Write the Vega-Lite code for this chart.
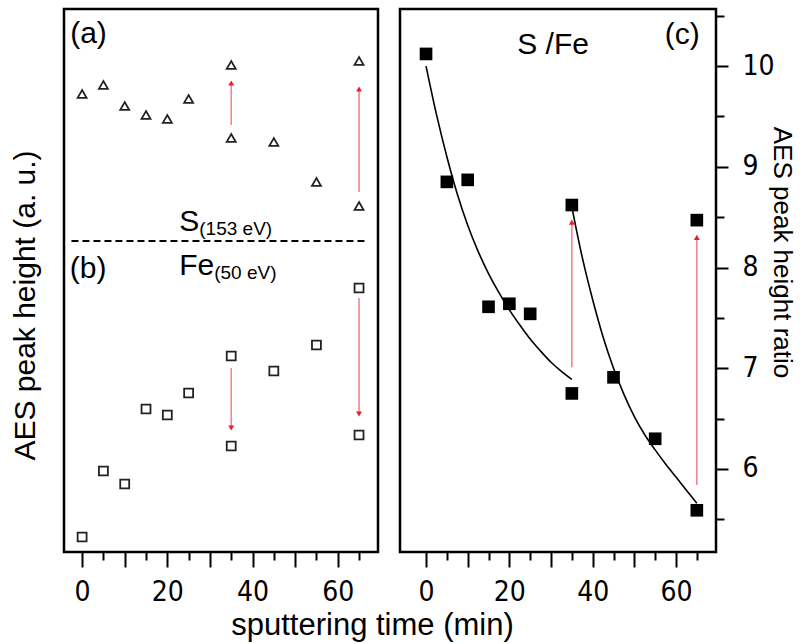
{
  "$schema": "https://vega.github.io/schema/vega-lite/v6.json",
  "padding": {"left": 8, "top": 0, "right": 2, "bottom": 0},
  "bounds": "flush",
  "spacing": 22,
  "config": {
    "view": {"stroke": "black", "strokeWidth": 2.5},
    "font": "Liberation Sans",
    "axis": {
      "labelFont": "Liberation Sans Narrow, DejaVu Sans Condensed, Liberation Sans",
      "titleFont": "Liberation Sans",
      "titleFontWeight": "normal",
      "labelColor": "black",
      "titleColor": "black",
      "tickColor": "black",
      "grid": false,
      "domain": false
    }
  },
  "datasets": {
    "S": [
      {"t": 0, "v": 458}, {"t": 5, "v": 467}, {"t": 10, "v": 446}, {"t": 15, "v": 437},
      {"t": 20, "v": 433}, {"t": 25, "v": 453}, {"t": 35, "v": 487}, {"t": 35, "v": 414},
      {"t": 45, "v": 410}, {"t": 55, "v": 370}, {"t": 65, "v": 491}, {"t": 65, "v": 346}
    ],
    "Fe": [
      {"t": 0, "v": 15}, {"t": 5, "v": 81}, {"t": 10, "v": 68}, {"t": 15, "v": 143},
      {"t": 20, "v": 137}, {"t": 25, "v": 159}, {"t": 35, "v": 196}, {"t": 35, "v": 106},
      {"t": 45, "v": 181}, {"t": 55, "v": 207}, {"t": 65, "v": 264}, {"t": 65, "v": 117}
    ],
    "ratio": [
      {"t": 0, "v": 10.12}, {"t": 5, "v": 8.85}, {"t": 10, "v": 8.87}, {"t": 15, "v": 7.61},
      {"t": 20, "v": 7.64}, {"t": 25, "v": 7.54}, {"t": 35, "v": 8.62}, {"t": 35, "v": 6.75},
      {"t": 45, "v": 6.91}, {"t": 55, "v": 6.30}, {"t": 65, "v": 8.47}, {"t": 65, "v": 5.59}
    ],
    "fit": [
      {"seg": 1, "t": 0, "v": 10.0}, {"seg": 1, "t": 2.5, "v": 9.52}, {"seg": 1, "t": 5, "v": 9.10},
      {"seg": 1, "t": 7.5, "v": 8.73}, {"seg": 1, "t": 10, "v": 8.42}, {"seg": 1, "t": 12.5, "v": 8.16},
      {"seg": 1, "t": 15, "v": 7.94}, {"seg": 1, "t": 17.5, "v": 7.75}, {"seg": 1, "t": 20, "v": 7.58},
      {"seg": 1, "t": 22.5, "v": 7.43}, {"seg": 1, "t": 25, "v": 7.29}, {"seg": 1, "t": 27.5, "v": 7.17},
      {"seg": 1, "t": 30, "v": 7.06}, {"seg": 1, "t": 32.5, "v": 6.97}, {"seg": 1, "t": 35, "v": 6.89},
      {"seg": 2, "t": 35, "v": 8.60}, {"seg": 2, "t": 37.5, "v": 8.10}, {"seg": 2, "t": 40, "v": 7.68},
      {"seg": 2, "t": 42.5, "v": 7.31}, {"seg": 2, "t": 45, "v": 7.00}, {"seg": 2, "t": 47.5, "v": 6.74},
      {"seg": 2, "t": 50, "v": 6.52}, {"seg": 2, "t": 52.5, "v": 6.34}, {"seg": 2, "t": 55, "v": 6.19},
      {"seg": 2, "t": 57.5, "v": 6.05}, {"seg": 2, "t": 60, "v": 5.92}, {"seg": 2, "t": 62.5, "v": 5.79},
      {"seg": 2, "t": 65, "v": 5.66}
    ],
    "armsL": [
      {"t": 35, "v1": 427, "v2": 468}, {"t": 65, "v1": 360, "v2": 462},
      {"t": 35, "v1": 184, "v2": 125}, {"t": 65, "v1": 254, "v2": 139}
    ],
    "headsL": [
      {"t": 35, "v": 469, "dir": "up"}, {"t": 65, "v": 463, "dir": "up"},
      {"t": 35, "v": 124, "dir": "down"}, {"t": 65, "v": 138, "dir": "down"}
    ],
    "armsR": [
      {"t": 35, "v1": 7.01, "v2": 8.44}, {"t": 65, "v1": 5.84, "v2": 8.29}
    ],
    "headsR": [
      {"t": 35, "v": 8.45, "dir": "up"}, {"t": 65, "v": 8.30, "dir": "up"}
    ],
    "divider": [{"t1": -2.5, "t2": 67.1, "v": 311}],
    "panelL": [{"t": 1.5, "v": 518, "txt": "(a)"}, {"t": 1.4, "v": 283, "txt": "(b)"}],
    "elem": [{"t": 22.8, "v": 321, "txt": "S"}, {"t": 22.8, "v": 277, "txt": "Fe"}],
    "sub": [{"t": 27.5, "v": 317, "txt": "(153 eV)"}, {"t": 31.0, "v": 273, "txt": "(50 eV)"}],
    "panelR": [{"t": 61.5, "v": 10.31, "txt": "(c)"}, {"t": 30.5, "v": 10.21, "txt": "S /Fe"}]
  },
  "hconcat": [
    {
      "width": 314,
      "height": 543,
      "encoding": {
        "x": {
          "field": "t", "type": "quantitative",
          "scale": {"domain": [-4.25, 69.45], "nice": false, "zero": false},
          "axis": {
            "values": [0, 5, 10, 15, 20, 25, 30, 35, 40, 45, 50, 55, 60, 65],
            "labelExpr": "datum.value % 20 === 0 ? datum.label : ''",
            "tickSize": {"condition": {"test": "datum.value % 10 === 0", "value": 15}, "value": 8},
            "tickWidth": 2,
            "labelFontSize": 28,
            "labelPadding": 11,
            "labelFlush": false,
            "labelOverlap": false,
            "title": "sputtering time (min)",
            "titleFontSize": 31,
            "titleX": 308,
            "titlePadding": 4
          }
        },
        "y": {
          "field": "v", "type": "quantitative",
          "scale": {"domain": [0, 543], "nice": false, "zero": false},
          "axis": {
            "labels": false, "ticks": false,
            "title": "AES peak height (a. u.)",
            "titleFontSize": 30,
            "titlePadding": 24,
            "titleY": 296
          }
        }
      },
      "layer": [
        {
          "data": {"name": "divider"},
          "mark": {"type": "rule", "color": "black", "strokeWidth": 2, "strokeDash": [7, 4]},
          "encoding": {"x": {"field": "t1", "type": "quantitative"}, "x2": {"field": "t2"}, "y": {"field": "v", "type": "quantitative"}}
        },
        {
          "data": {"name": "armsL"},
          "mark": {"type": "rule", "color": "#f3868f", "strokeWidth": 1.6},
          "encoding": {"y": {"field": "v1", "type": "quantitative"}, "y2": {"field": "v2"}}
        },
        {
          "data": {"name": "headsL"},
          "mark": {"type": "point", "filled": true, "color": "#e8202e", "size": 36, "opacity": 1},
          "encoding": {"shape": {"field": "dir", "type": "nominal", "scale": {"domain": ["up", "down"], "range": ["triangle-up", "triangle-down"]}, "legend": null}}
        },
        {
          "data": {"name": "S"},
          "mark": {"type": "point", "shape": "triangle-up", "filled": false, "stroke": "#222222", "strokeWidth": 1.8, "size": 80, "opacity": 1}
        },
        {
          "data": {"name": "Fe"},
          "mark": {"type": "point", "shape": "square", "filled": false, "stroke": "#222222", "strokeWidth": 1.8, "size": 80, "opacity": 1}
        },
        {
          "data": {"name": "panelL"},
          "mark": {"type": "text", "fontSize": 30, "align": "center", "baseline": "middle", "color": "black"},
          "encoding": {"text": {"field": "txt"}}
        },
        {
          "data": {"name": "elem"},
          "mark": {"type": "text", "fontSize": 30, "align": "left", "baseline": "alphabetic", "color": "black"},
          "encoding": {"text": {"field": "txt"}}
        },
        {
          "data": {"name": "sub"},
          "mark": {"type": "text", "fontSize": 19, "align": "left", "baseline": "alphabetic", "color": "black"},
          "encoding": {"text": {"field": "txt"}}
        }
      ]
    },
    {
      "width": 316,
      "height": 543,
      "encoding": {
        "x": {
          "field": "t", "type": "quantitative",
          "scale": {"domain": [-6.25, 69.6], "nice": false, "zero": false},
          "axis": {
            "values": [0, 5, 10, 15, 20, 25, 30, 35, 40, 45, 50, 55, 60, 65],
            "labelExpr": "datum.value % 20 === 0 ? datum.label : ''",
            "tickSize": {"condition": {"test": "datum.value % 10 === 0", "value": 15}, "value": 8},
            "tickWidth": 2,
            "labelFontSize": 28,
            "labelPadding": 11,
            "labelFlush": false,
            "labelOverlap": false,
            "title": null
          }
        },
        "y": {
          "field": "v", "type": "quantitative",
          "scale": {"domain": [5.176, 10.566], "nice": false, "zero": false},
          "axis": {
            "orient": "right",
            "values": [5.5, 6, 6.5, 7, 7.5, 8, 8.5, 9, 9.5, 10, 10.5],
            "labelExpr": "datum.value % 1 === 0 ? format(datum.value, 'd') : ''",
            "tickSize": {"condition": {"test": "datum.value % 1 === 0", "value": 12}, "value": 8},
            "tickWidth": 2,
            "labelFontSize": 28,
            "labelPadding": 14,
            "labelFlush": false,
            "labelOverlap": false,
            "labelBaseline": "middle",
            "title": "AES peak height ratio",
            "titleFontSize": 26,
            "titlePadding": -6,
            "titleY": 243
          }
        }
      },
      "layer": [
        {
          "data": {"name": "fit"},
          "mark": {"type": "line", "color": "black", "strokeWidth": 1.6, "interpolate": "monotone"},
          "encoding": {"detail": {"field": "seg", "type": "nominal"}}
        },
        {
          "data": {"name": "armsR"},
          "mark": {"type": "rule", "color": "#f3868f", "strokeWidth": 1.6},
          "encoding": {"y": {"field": "v1", "type": "quantitative"}, "y2": {"field": "v2"}}
        },
        {
          "data": {"name": "headsR"},
          "mark": {"type": "point", "shape": "triangle-up", "filled": true, "color": "#e8202e", "size": 36, "opacity": 1}
        },
        {
          "data": {"name": "ratio"},
          "mark": {"type": "point", "shape": "square", "filled": true, "color": "black", "size": 160, "opacity": 1}
        },
        {
          "data": {"name": "panelR"},
          "mark": {"type": "text", "fontSize": 30, "align": "center", "baseline": "middle", "color": "black"},
          "encoding": {"text": {"field": "txt"}}
        }
      ]
    }
  ]
}
